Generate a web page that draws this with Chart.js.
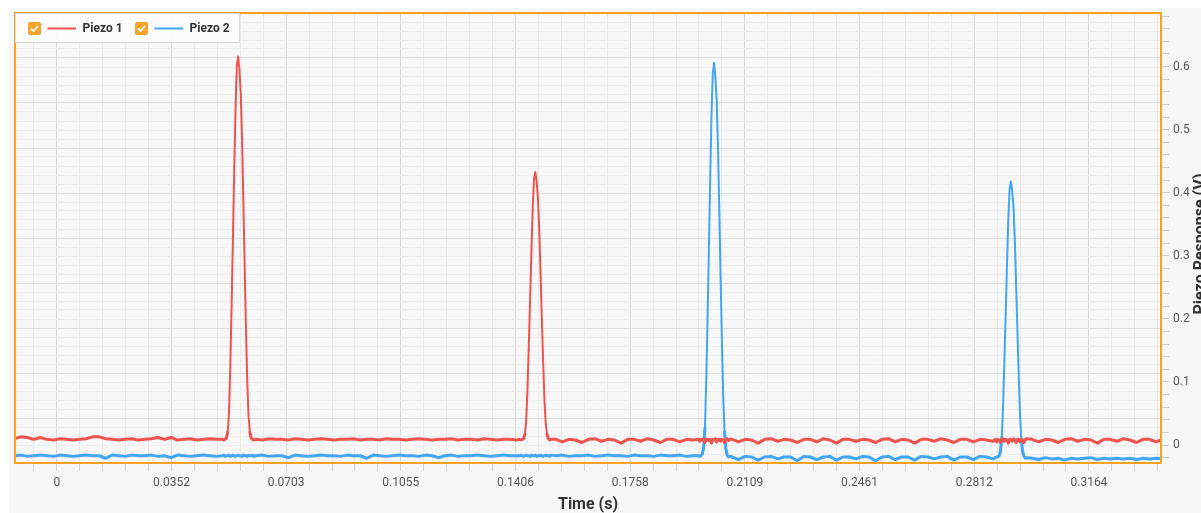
<!DOCTYPE html>
<html>
<head>
<meta charset="utf-8">
<title>Piezo response</title>
<script src="https://cdn.jsdelivr.net/npm/chart.js@4.4.1/dist/chart.umd.min.js"></script>
<style>
  html, body { margin: 0; padding: 0; background: #fff; overflow: hidden; }
  #wrap { width: 1201px; height: 513px; }
</style>
</head>
<body>
<div id="wrap"><canvas id="piezoChart" width="1201" height="513"></canvas></div>
<script>
// sample times (s) - coarse on the baseline, fine around each pulse
const timeSec = [
  -0.013, -0.011, -0.009, -0.007, -0.005, -0.003, -0.001, 0.001, 0.003, 0.005, 0.007, 0.009, 0.011, 0.013, 0.015, 0.017,
  0.019, 0.021, 0.023, 0.025, 0.027, 0.029, 0.031, 0.033, 0.035, 0.037, 0.039, 0.041, 0.043, 0.045, 0.047, 0.049,
  0.0508, 0.0512, 0.0516, 0.0520, 0.0524, 0.0528, 0.0532, 0.0536, 0.0540, 0.0544, 0.0548, 0.0552, 0.0556,
  0.0560, 0.0564, 0.0568, 0.0572, 0.0576, 0.0580, 0.0584, 0.0588, 0.0592, 0.0596, 0.0600, 0.0604,
  0.061, 0.063, 0.065, 0.067, 0.069, 0.071, 0.073, 0.075, 0.077, 0.079, 0.081, 0.083, 0.085, 0.087, 0.089, 0.091,
  0.093, 0.095, 0.097, 0.099, 0.101, 0.103, 0.105, 0.107, 0.109, 0.111, 0.113, 0.115, 0.117, 0.119, 0.121, 0.123,
  0.125, 0.127, 0.129, 0.131, 0.133, 0.135, 0.137, 0.139, 0.141,
  0.1419, 0.1423, 0.1427, 0.1431, 0.1435, 0.1439, 0.1443, 0.1447, 0.1451, 0.1455, 0.1459, 0.1463, 0.1467,
  0.1471, 0.1475, 0.1479, 0.1483, 0.1487, 0.1491, 0.1495, 0.1499, 0.1503, 0.1507, 0.1511, 0.1515,
  0.153, 0.155, 0.157, 0.159, 0.161, 0.163, 0.165, 0.167, 0.169, 0.171, 0.173, 0.175, 0.177, 0.179, 0.181, 0.183,
  0.185, 0.187, 0.189, 0.191, 0.193, 0.195,
  0.1967, 0.1971, 0.1975, 0.1979, 0.1983, 0.1987, 0.1991, 0.1995, 0.1999, 0.2003, 0.2007, 0.2011, 0.2015,
  0.2019, 0.2023, 0.2027, 0.2031, 0.2035, 0.2039, 0.2043, 0.2047, 0.2051, 0.2055, 0.2059, 0.2063,
  0.207, 0.209, 0.211, 0.213, 0.215, 0.217, 0.219, 0.221, 0.223, 0.225, 0.227, 0.229, 0.231, 0.233, 0.235, 0.237,
  0.239, 0.241, 0.243, 0.245, 0.247, 0.249, 0.251, 0.253, 0.255, 0.257, 0.259, 0.261, 0.263, 0.265, 0.267, 0.269,
  0.271, 0.273, 0.275, 0.277, 0.279, 0.281, 0.283, 0.285, 0.287,
  0.2877, 0.2881, 0.2885, 0.2889, 0.2893, 0.2897, 0.2901, 0.2905, 0.2909, 0.2913, 0.2917, 0.2921, 0.2925,
  0.2929, 0.2933, 0.2937, 0.2941, 0.2945, 0.2949, 0.2953, 0.2957, 0.2961, 0.2965, 0.2969, 0.2973,
  0.299, 0.301, 0.303, 0.305, 0.307, 0.309, 0.311, 0.313, 0.315, 0.317, 0.319, 0.321, 0.323, 0.325, 0.327, 0.329,
  0.331, 0.333, 0.335, 0.337, 0.339
];

// Piezo 1 (V)
const piezo1 = [
  0.010, 0.013, 0.012, 0.009, 0.012, 0.009, 0.008, 0.010, 0.009, 0.008, 0.009, 0.010, 0.013, 0.013, 0.010, 0.009,
  0.008, 0.009, 0.010, 0.008, 0.009, 0.010, 0.012, 0.009, 0.012, 0.008, 0.009, 0.010, 0.008, 0.009, 0.010, 0.009,
  0.009, 0.008, 0.009, 0.011, 0.020, 0.051, 0.124, 0.222, 0.326, 0.436, 0.533, 0.601, 0.616,
  0.595, 0.558, 0.485, 0.387, 0.283, 0.185, 0.100, 0.045, 0.020, 0.011, 0.009, 0.008,
  0.009, 0.008, 0.010, 0.009, 0.009, 0.008, 0.010, 0.009, 0.008, 0.009, 0.010, 0.009, 0.008, 0.009, 0.009, 0.010,
  0.008, 0.009, 0.009, 0.008, 0.010, 0.009, 0.009, 0.008, 0.009, 0.010, 0.009, 0.008, 0.009, 0.009, 0.010, 0.008,
  0.009, 0.009, 0.008, 0.010, 0.009, 0.008, 0.009, 0.009, 0.008,
  0.009, 0.008, 0.009, 0.010, 0.017, 0.038, 0.089, 0.157, 0.230, 0.307, 0.375, 0.422, 0.433,
  0.418, 0.392, 0.341, 0.273, 0.200, 0.132, 0.072, 0.034, 0.017, 0.010, 0.008, 0.009,
  0.009, 0.005, 0.009, 0.008, 0.004, 0.009, 0.010, 0.006, 0.009, 0.008, 0.003, 0.009, 0.009, 0.006, 0.010, 0.008,
  0.004, 0.009, 0.009, 0.005, 0.009, 0.008,
  0.009, 0.006, 0.009, 0.008, 0.010, 0.004, 0.009, 0.009, 0.007, 0.009, 0.003, 0.009, 0.008,
  0.010, 0.005, 0.009, 0.009, 0.006, 0.009, 0.008, 0.004, 0.009, 0.010, 0.007, 0.009,
  0.009, 0.005, 0.009, 0.008, 0.003, 0.009, 0.010, 0.006, 0.009, 0.008, 0.004, 0.009, 0.009, 0.005, 0.010, 0.008,
  0.003, 0.009, 0.009, 0.006, 0.009, 0.008, 0.004, 0.009, 0.010, 0.005, 0.009, 0.008, 0.003, 0.009, 0.009, 0.006,
  0.010, 0.008, 0.004, 0.009, 0.009, 0.005, 0.009, 0.008, 0.006,
  0.009, 0.005, 0.009, 0.008, 0.004, 0.009, 0.010, 0.006, 0.009, 0.008, 0.003, 0.009, 0.009,
  0.006, 0.010, 0.008, 0.004, 0.009, 0.009, 0.005, 0.009, 0.008, 0.004, 0.009, 0.010,
  0.009, 0.005, 0.009, 0.008, 0.004, 0.009, 0.010, 0.006, 0.009, 0.008, 0.003, 0.009, 0.009, 0.006, 0.010, 0.008,
  0.004, 0.009, 0.009, 0.005, 0.009
];

// Piezo 2 (V)
const piezo2 = [
  -0.017, -0.016, -0.018, -0.017, -0.016, -0.017, -0.018, -0.016, -0.017, -0.018, -0.017, -0.016, -0.017, -0.017, -0.021, -0.016,
  -0.017, -0.018, -0.016, -0.017, -0.017, -0.016, -0.018, -0.017, -0.020, -0.016, -0.017, -0.018, -0.017, -0.016, -0.017, -0.018,
  -0.017, -0.016, -0.018, -0.017, -0.017, -0.016, -0.018, -0.017, -0.016, -0.017, -0.018, -0.017, -0.016,
  -0.017, -0.017, -0.018, -0.016, -0.017, -0.017, -0.018, -0.016, -0.017, -0.017, -0.016, -0.018,
  -0.017, -0.016, -0.018, -0.017, -0.017, -0.020, -0.016, -0.017, -0.018, -0.017, -0.016, -0.017, -0.017, -0.018, -0.016, -0.017,
  -0.017, -0.021, -0.016, -0.017, -0.018, -0.017, -0.016, -0.017, -0.017, -0.018, -0.016, -0.017, -0.020, -0.017, -0.016, -0.018,
  -0.017, -0.017, -0.016, -0.017, -0.018, -0.017, -0.016, -0.017, -0.017,
  -0.017, -0.016, -0.017, -0.018, -0.017, -0.016, -0.017, -0.017, -0.018, -0.016, -0.017, -0.017, -0.016,
  -0.018, -0.017, -0.017, -0.016, -0.017, -0.018, -0.017, -0.016, -0.017, -0.017, -0.018, -0.016,
  -0.017, -0.016, -0.018, -0.017, -0.017, -0.016, -0.018, -0.017, -0.016, -0.017, -0.017, -0.018, -0.016, -0.017, -0.017, -0.018,
  -0.016, -0.017, -0.017, -0.016, -0.018, -0.017,
  -0.017, -0.018, -0.017, -0.014, -0.005, 0.027, 0.102, 0.202, 0.308, 0.421, 0.521, 0.589, 0.606,
  0.583, 0.546, 0.471, 0.371, 0.265, 0.165, 0.077, 0.021, -0.006, -0.016, -0.019, -0.018,
  -0.019, -0.023, -0.018, -0.019, -0.024, -0.019, -0.018, -0.022, -0.019, -0.019, -0.025, -0.018, -0.019, -0.023, -0.019, -0.018,
  -0.024, -0.019, -0.019, -0.022, -0.018, -0.019, -0.025, -0.019, -0.018, -0.023, -0.019, -0.019, -0.024, -0.018, -0.019, -0.022,
  -0.019, -0.018, -0.024, -0.019, -0.019, -0.023, -0.018, -0.019, -0.022,
  -0.020, -0.019, -0.019, -0.017, -0.010, 0.012, 0.064, 0.135, 0.209, 0.288, 0.359, 0.407, 0.418,
  0.402, 0.376, 0.323, 0.253, 0.179, 0.108, 0.047, 0.007, -0.010, -0.018, -0.021, -0.020,
  -0.021, -0.023, -0.020, -0.022, -0.021, -0.024, -0.021, -0.022, -0.021, -0.020, -0.023, -0.021, -0.022, -0.021, -0.022, -0.021,
  -0.023, -0.021, -0.022, -0.021, -0.022
];

const seriesNames = ['Piezo 1', 'Piezo 2'];
const seriesColors = ['#ef5350', '#42a5f5'];
const xTickLabels = ['0', '0.0352', '0.0703', '0.1055', '0.1406', '0.1758', '0.2109', '0.2461', '0.2812', '0.3164'];
const yTickLabels = ['0', '0.1', '0.2', '0.3', '0.4', '0.5', '0.6'];
const xTickStep = 0.03515625;
const yTickStep = 0.1;

Chart.defaults.font.family = 'Roboto';
Chart.defaults.font.size = 12;
Chart.defaults.color = '#555';

function isStep(value, step) {
    const n = value / step;
    return Math.abs(n - Math.round(n)) < 1e-6;
}

function drawCheckbox(ctx, x, y) {
    ctx.fillStyle = '#f7a42a';
    ctx.beginPath();
    ctx.roundRect(x, y, 13, 13, 2);
    ctx.fill();
    ctx.strokeStyle = '#fff';
    ctx.lineWidth = 1.8;
    ctx.beginPath();
    ctx.moveTo(x + 3, y + 6.5);
    ctx.lineTo(x + 5.5, y + 9);
    ctx.lineTo(x + 10, y + 4);
    ctx.stroke();
}

const chrome = {
    id: 'chrome',
    beforeDraw(chart) {
        const { ctx, width, height } = chart;
        ctx.save();
        ctx.fillStyle = '#ffffff';
        ctx.fillRect(0, 0, width, height);
        ctx.fillStyle = '#f7f7f7';
        ctx.fillRect(9, 8, width - 9, height - 8);
        ctx.restore();
    },
    afterDraw(chart) {
        const { ctx, chartArea: a } = chart;
        ctx.save();
        ctx.strokeStyle = '#ffa11f';
        ctx.lineWidth = 2;
        ctx.strokeRect(a.left, a.top, a.right - a.left, a.bottom - a.top);

        // axis titles
        ctx.fillStyle = '#333';
        ctx.font = 'bold 16px Roboto';
        ctx.textAlign = 'center';
        ctx.textBaseline = 'middle';
        ctx.fillText('Time (s)', (a.left + a.right) / 2, a.bottom + 42);
        ctx.save();
        ctx.translate(a.right + 40, (a.top + a.bottom) / 2 + 6);
        ctx.rotate(-Math.PI / 2);
        ctx.fillText('Piezo Response (V)', 0, 0);
        ctx.restore();

        // legend with check boxes
        const lx = a.left, ly = a.top + 0.5;
        ctx.fillStyle = 'rgba(252,252,252,0.95)';
        ctx.fillRect(lx, ly, 224, 29);
        ctx.strokeStyle = '#dadada';
        ctx.lineWidth = 1;
        ctx.strokeRect(lx + 0.5, ly, 224, 29);
        ctx.font = 'bold 12px Roboto';
        ctx.textAlign = 'left';
        seriesNames.forEach((name, i) => {
            const x = lx + 13 + i * 107;
            drawCheckbox(ctx, x, ly + 8.5);
            ctx.strokeStyle = seriesColors[i];
            ctx.lineWidth = 2;
            ctx.beginPath();
            ctx.moveTo(x + 19.5, ly + 15);
            ctx.lineTo(x + 48, ly + 15);
            ctx.stroke();
            ctx.fillStyle = '#333';
            ctx.fillText(name, x + 54.5, ly + 15);
        });
        ctx.restore();
    }
};

// thicker stroke where the trace sits on its noisy baseline
const baselineWidth = seg => (Math.abs(seg.p0.parsed.y) < 0.03 && Math.abs(seg.p1.parsed.y) < 0.03) ? 3 : 2;

const ctx = document.getElementById('piezoChart').getContext('2d');
const piezoChart = new Chart(ctx, {
    type: 'line',
    data: {
        datasets: [piezo1, piezo2].map((values, i) => ({
            label: seriesNames[i],
            data: timeSec.map((t, k) => ({ x: t, y: values[k] })),
            borderColor: seriesColors[i],
            borderWidth: 2,
            borderJoinStyle: 'round',
            borderCapStyle: 'round',
            segment: { borderWidth: baselineWidth },
            pointRadius: 0,
            tension: 0,
            yAxisID: 'y'
        }))
    },
    options: {
        responsive: false,
        animation: false,
        devicePixelRatio: 1,
        layout: { padding: { left: 15, top: 13, right: 0, bottom: 0 } },
        plugins: {
            legend: { display: false },
            tooltip: { enabled: false }
        },
        scales: {
            x: {
                type: 'linear',
                position: 'bottom',
                min: -0.0128,
                max: 0.3385,
                afterBuildTicks: scale => {
                    const ticks = [];
                    for (let i = -1; i <= 48; i++) {
                        const v = i * xTickStep / 5;
                        if (v >= scale.min && v <= scale.max) ticks.push({ value: v });
                    }
                    scale.ticks = ticks;
                },
                afterFit: scale => { scale.height = 50; },
                ticks: {
                    autoSkip: false,
                    maxRotation: 0,
                    padding: 5,
                    color: '#555',
                    callback: value => {
                        if (!isStep(value, xTickStep)) return '';
                        return xTickLabels[Math.round(value / xTickStep)] || '';
                    }
                },
                grid: {
                    color: c => isStep(c.tick.value, xTickStep) ? '#d9d9d9' : '#eaeaea',
                    tickColor: '#d0d0d0',
                    tickLength: 8
                },
                border: { display: false }
            },
            y: {
                type: 'linear',
                position: 'right',
                min: -0.0285,
                max: 0.685,
                afterBuildTicks: scale => {
                    const ticks = [];
                    for (let i = -1; i <= 34; i++) ticks.push({ value: i / 50 });
                    scale.ticks = ticks;
                },
                afterFit: scale => { scale.width = 40; },
                ticks: {
                    autoSkip: false,
                    padding: 4,
                    color: '#555',
                    callback: value => {
                        if (!isStep(value, yTickStep)) return '';
                        return yTickLabels[Math.round(value / yTickStep)] || '';
                    }
                },
                grid: {
                    drawOnChartArea: false,
                    tickColor: '#d0d0d0',
                    tickLength: 8
                },
                border: { display: false }
            },
            g: {
                type: 'linear',
                position: 'left',
                min: 0,
                max: 50,
                afterBuildTicks: scale => {
                    scale.ticks = Array.from({ length: 51 }, (_, i) => ({ value: i }));
                },
                afterFit: scale => { scale.width = 0; },
                ticks: { display: false },
                grid: {
                    drawTicks: false,
                    color: c => c.tick.value % 5 === 0 ? '#e0e0e0' : '#eeeeee'
                },
                border: { display: false }
            }
        }
    },
    plugins: [chrome]
});
</script>
</body>
</html>
